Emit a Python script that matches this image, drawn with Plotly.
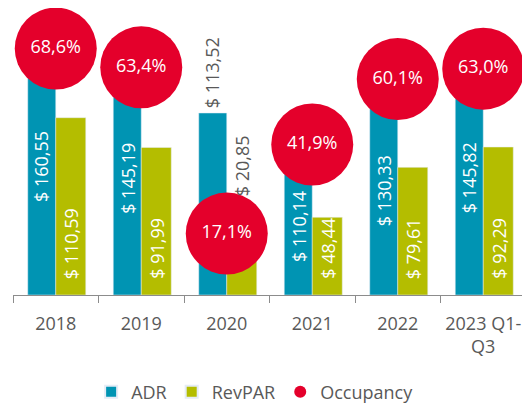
import plotly.graph_objects as go

categories = ["2018", "2019", "2020", "2021", "2022", "2023 Q1-<br>Q3"]
adr = [160.55, 145.19, 113.52, 110.14, 130.33, 145.82]
revpar = [110.59, 91.99, 20.85, 48.44, 79.61, 92.29]
occupancy = [68.6, 63.4, 17.1, 41.9, 60.1, 63.0]

C_ADR = "#0094B3"
C_REV = "#B4BD00"
C_OCC = "#E4002B"
GREY = "#595959"
FONT = "Open Sans"

def money(v):
    return "$ " + f"{v:.2f}".replace(".", ",")

def pct(v):
    return f"{v:.1f}".replace(".", ",") + "%"

fig = go.Figure()
fig.add_bar(x=categories, y=adr, name="ADR", marker_color=C_ADR,
            width=0.3275, offset=-0.3275)
fig.add_bar(x=categories, y=revpar, name="RevPAR", marker_color=C_REV,
            width=0.351, offset=0)
fig.add_scatter(x=categories, y=occupancy, yaxis="y2", name="Occupancy",
                mode="markers+text", marker=dict(size=82, color=C_OCC),
                text=[pct(v) for v in occupancy], textposition="middle center",
                textfont=dict(color="white", size=18, family=FONT),
                cliponaxis=False)

# annotations are placed by category index (numeric-looking category names
# would otherwise be read as numbers)
annotations = []
for i, c in enumerate(categories):
    # ADR labels
    if i == 2:
        annotations.append(dict(x=i, y=adr[i], xref="x", yref="y", text=money(adr[i]),
                                textangle=-90, showarrow=False, yanchor="bottom",
                                xshift=-14, yshift=3,
                                font=dict(color=GREY, size=18, family=FONT)))
    else:
        shift = -20 if i == 3 else 0
        annotations.append(dict(x=i, y=adr[i] / 2, xref="x", yref="y", text=money(adr[i]),
                                textangle=-90, showarrow=False, yanchor="middle",
                                xshift=-14, yshift=shift,
                                font=dict(color="white", size=18, family=FONT)))
    # RevPAR labels
    if i == 2:
        annotations.append(dict(x=i, y=0, xref="x", yref="y", text=money(revpar[i]),
                                textangle=-90, showarrow=False, yanchor="bottom",
                                xshift=15, yshift=97,
                                font=dict(color=GREY, size=18, family=FONT)))
    else:
        annotations.append(dict(x=i, y=0, xref="x", yref="y", text=money(revpar[i]),
                                textangle=-90, showarrow=False, yanchor="bottom",
                                xshift=15, yshift=14,
                                font=dict(color="white", size=18, family=FONT)))

fig.update_layout(
    width=522, height=395,
    margin=dict(l=5, r=4, t=0, b=108, autoexpand=False),
    paper_bgcolor="white", plot_bgcolor="white",
    font=dict(family=FONT, color=GREY, size=18),
    barmode="overlay",
    showlegend=True,
    legend=dict(orientation="h", x=0.472, xanchor="center", y=-0.338, yanchor="middle",
                itemsizing="constant", font=dict(size=18, color=GREY, family=FONT),
                traceorder="normal"),
    xaxis=dict(type="category", tickangle=0, range=[-0.5, 5.5], automargin=False,
               showline=True, linecolor="#8C8C8C", linewidth=1,
               ticks="outside", tickson="boundaries", ticklen=7, tickcolor="#8C8C8C",
               showgrid=False, zeroline=False, ticklabelstandoff=12,
               tickfont=dict(size=18, color=GREY, family=FONT)),
    yaxis=dict(range=[0, 179.0], visible=False, showgrid=False, zeroline=False,
               automargin=False),
    yaxis2=dict(range=[0, 79.9], overlaying="y", visible=False, showgrid=False,
                zeroline=False, automargin=False),
    annotations=annotations,
)

fig.write_html("out.html")
